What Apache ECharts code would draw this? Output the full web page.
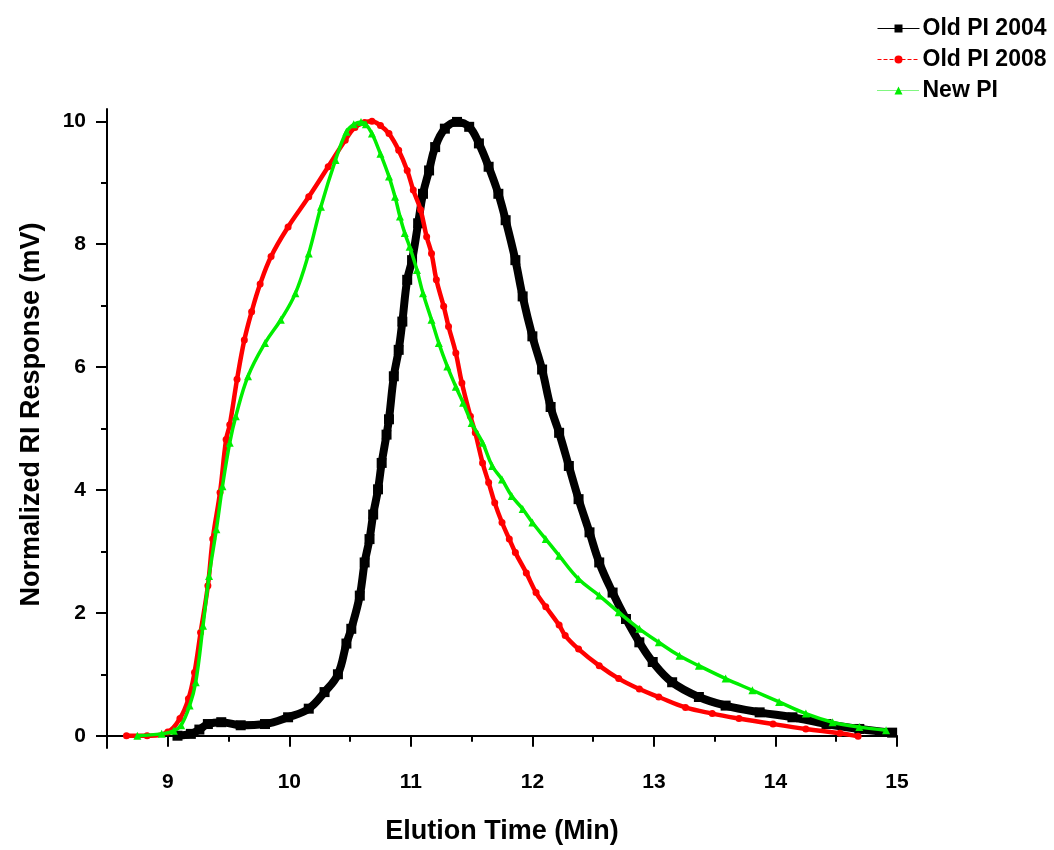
<!DOCTYPE html>
<html>
<head>
<meta charset="utf-8">
<script src="https://cdn.jsdelivr.net/npm/echarts@6/dist/echarts.min.js"></script>
<style>
  html, body { margin: 0; padding: 0; background: #fff; }
  #main { width: 1054px; height: 850px; }
</style>
</head>
<body>
<div id="main"></div>
<script>
// elution time (min) and normalized RI response (mV)
const oldPi2004Time = [9.08, 9.19, 9.26, 9.33, 9.44, 9.6, 9.8, 9.99, 10.16, 10.29, 10.4, 10.47, 10.51, 10.58, 10.62, 10.66, 10.69, 10.73, 10.76, 10.8, 10.82, 10.86, 10.9, 10.93, 10.97, 11.01, 11.06, 11.1, 11.15, 11.2, 11.28, 11.38, 11.48, 11.56, 11.64, 11.72, 11.78, 11.86, 11.92, 12.0, 12.08, 12.15, 12.22, 12.3, 12.38, 12.47, 12.55, 12.66, 12.77, 12.88, 12.99, 13.15, 13.37, 13.59, 13.87, 14.14, 14.42, 14.69, 14.96]
const oldPi2004Resp = [0.0, 0.03, 0.1, 0.19, 0.22, 0.17, 0.19, 0.3, 0.44, 0.71, 1.0, 1.5, 1.74, 2.28, 2.82, 3.2, 3.6, 4.01, 4.44, 4.9, 5.15, 5.85, 6.28, 6.74, 7.42, 7.74, 8.34, 8.82, 9.2, 9.58, 9.88, 9.99, 9.91, 9.64, 9.26, 8.82, 8.39, 7.74, 7.15, 6.5, 5.96, 5.35, 4.93, 4.39, 3.85, 3.31, 2.82, 2.33, 1.9, 1.52, 1.2, 0.87, 0.63, 0.49, 0.38, 0.3, 0.19, 0.11, 0.05]

const oldPi2008Time = [8.66, 8.83, 9.0, 9.1, 9.17, 9.22, 9.27, 9.33, 9.37, 9.43, 9.48, 9.51, 9.57, 9.63, 9.69, 9.76, 9.85, 9.99, 10.16, 10.32, 10.46, 10.54, 10.62, 10.68, 10.75, 10.82, 10.9, 10.97, 11.02, 11.08, 11.13, 11.17, 11.21, 11.27, 11.31, 11.37, 11.42, 11.49, 11.53, 11.59, 11.64, 11.69, 11.75, 11.81, 11.86, 11.95, 12.03, 12.11, 12.22, 12.27, 12.38, 12.55, 12.71, 12.88, 13.04, 13.26, 13.48, 13.7, 13.98, 14.25, 14.53, 14.68]
const oldPi2008Resp = [0.0, 0.0, 0.06, 0.28, 0.6, 1.03, 1.68, 2.44, 3.2, 3.96, 4.82, 5.06, 5.8, 6.44, 6.9, 7.35, 7.8, 8.28, 8.77, 9.26, 9.69, 9.9, 9.98, 10.0, 9.93, 9.8, 9.53, 9.2, 8.88, 8.56, 8.12, 7.85, 7.42, 6.99, 6.66, 6.23, 5.74, 5.2, 4.93, 4.44, 4.12, 3.79, 3.47, 3.2, 2.98, 2.65, 2.33, 2.1, 1.8, 1.63, 1.41, 1.14, 0.93, 0.76, 0.63, 0.46, 0.36, 0.28, 0.19, 0.11, 0.04, -0.01]

const newPiTime = [8.75, 8.95, 9.05, 9.11, 9.18, 9.23, 9.29, 9.34, 9.4, 9.45, 9.51, 9.56, 9.66, 9.8, 9.93, 10.05, 10.16, 10.26, 10.38, 10.47, 10.53, 10.59, 10.63, 10.68, 10.75, 10.82, 10.87, 10.91, 10.95, 10.99, 11.05, 11.1, 11.17, 11.23, 11.3, 11.37, 11.43, 11.5, 11.59, 11.67, 11.75, 11.83, 11.92, 12.0, 12.11, 12.22, 12.38, 12.55, 12.71, 12.88, 13.04, 13.21, 13.37, 13.59, 13.81, 14.03, 14.25, 14.47, 14.69, 14.91]
const newPiResp = [0.0, 0.03, 0.08, 0.17, 0.49, 0.87, 1.79, 2.6, 3.36, 4.06, 4.77, 5.2, 5.85, 6.39, 6.77, 7.2, 7.85, 8.61, 9.37, 9.83, 9.95, 9.99, 9.95, 9.8, 9.47, 9.1, 8.77, 8.45, 8.18, 7.96, 7.58, 7.2, 6.77, 6.39, 6.01, 5.68, 5.42, 5.09, 4.77, 4.39, 4.17, 3.9, 3.69, 3.47, 3.2, 2.93, 2.55, 2.28, 2.01, 1.74, 1.52, 1.3, 1.14, 0.93, 0.74, 0.55, 0.36, 0.22, 0.14, 0.09]

const xMajorTicks = [9, 10, 11, 12, 13, 14, 15]
const xMinorTicks = [8.5, 9.5, 10.5, 11.5, 12.5, 13.5, 14.5]
const yMajorTicks = [0, 2, 4, 6, 8, 10]
const yMinorTicks = [1, 3, 5, 7, 9]

const zip = (xs, ys) => xs.map((x, i) => [x, ys[i]])

const FONT = '"Liberation Sans", Arial, sans-serif'
const axisColor = '#000'
const BLACK = '#000'
const RED = '#ff0000'
const GREEN = '#00ee00'

const chart = echarts.init(document.getElementById('main'), null, { renderer: 'canvas' })

chart.setOption({
  animation: false,
  backgroundColor: '#fff',
  textStyle: { fontFamily: FONT },
  grid: { left: 107, right: 157, top: 109, bottom: 101, containLabel: false },
  legend: {
    orient: 'vertical',
    left: 872,
    top: 12,
    align: 'left',
    itemWidth: 42,
    itemHeight: 10,
    itemGap: 8,
    lineStyle: { width: 1 },
    textStyle: { fontFamily: FONT, fontWeight: 'bold', fontSize: 23, color: '#000', lineHeight: 22, padding: [0, 0, 0, -2] },
    data: [
      { name: 'Old PI 2004', lineStyle: { width: 1, type: 'solid', color: BLACK } },
      { name: 'Old PI 2008', lineStyle: { width: 1, type: 'dashed', color: RED } },
      { name: 'New PI', lineStyle: { width: 1, type: 'dotted', color: GREEN } }
    ]
  },
  xAxis: [{
    type: 'value',
    min: 8.5,
    max: 15,
    position: 'bottom',
    name: 'Elution Time (Min)',
    nameLocation: 'middle',
    nameGap: 70,
    nameTextStyle: { fontFamily: FONT, fontWeight: 'bold', fontSize: 27, color: '#000' },
    splitLine: { show: false },
    axisLine: { lineStyle: { color: axisColor, width: 2 } },
    axisTick: { customValues: xMajorTicks, length: 11, lineStyle: { color: axisColor, width: 2 } },
    axisLabel: { customValues: xMajorTicks, margin: 24, fontFamily: FONT, fontWeight: 'bold', fontSize: 21, color: '#000' }
  }, {
    // minor ticks
    type: 'value',
    min: 8.5,
    max: 15,
    position: 'bottom',
    splitLine: { show: false },
    axisLine: { show: false },
    axisTick: { customValues: xMinorTicks, length: 6, lineStyle: { color: axisColor, width: 2 } },
    axisLabel: { show: false }
  }],
  yAxis: [{
    type: 'value',
    min: -0.2,
    max: 10.2,
    position: 'left',
    name: 'Normalized RI Response (mV)',
    nameLocation: 'middle',
    nameGap: 62,
    nameTextStyle: { fontFamily: FONT, fontWeight: 'bold', fontSize: 27, color: '#000', padding: [0, 0, 0, 28] },
    splitLine: { show: false },
    axisLine: { lineStyle: { color: axisColor, width: 2 } },
    axisTick: { customValues: yMajorTicks, length: 11, lineStyle: { color: axisColor, width: 2 } },
    axisLabel: { customValues: yMajorTicks, margin: 21, fontFamily: FONT, fontWeight: 'bold', fontSize: 21, color: '#000' }
  }, {
    type: 'value',
    min: -0.2,
    max: 10.2,
    position: 'left',
    splitLine: { show: false },
    axisLine: { show: false },
    axisTick: { customValues: yMinorTicks, length: 6, lineStyle: { color: axisColor, width: 2 } },
    axisLabel: { show: false }
  }],
  series: [{
    name: 'Old PI 2004',
    type: 'line',
    smooth: 0.4,
    data: zip(oldPi2004Time, oldPi2004Resp),
    symbol: 'rect',
    symbolSize: 10,
    itemStyle: { color: BLACK },
    lineStyle: { color: BLACK, width: 8 },
    z: 2
  }, {
    name: 'Old PI 2008',
    type: 'line',
    smooth: 0.4,
    data: zip(oldPi2008Time, oldPi2008Resp),
    symbol: 'circle',
    symbolSize: 7,
    itemStyle: { color: RED },
    lineStyle: { color: RED, width: 4.5 },
    z: 3
  }, {
    name: 'New PI',
    type: 'line',
    smooth: 0.4,
    data: zip(newPiTime, newPiResp),
    symbol: 'triangle',
    symbolSize: 8,
    itemStyle: { color: GREEN },
    lineStyle: { color: GREEN, width: 3.5 },
    z: 4
  }]
})
</script>
</body>
</html>
